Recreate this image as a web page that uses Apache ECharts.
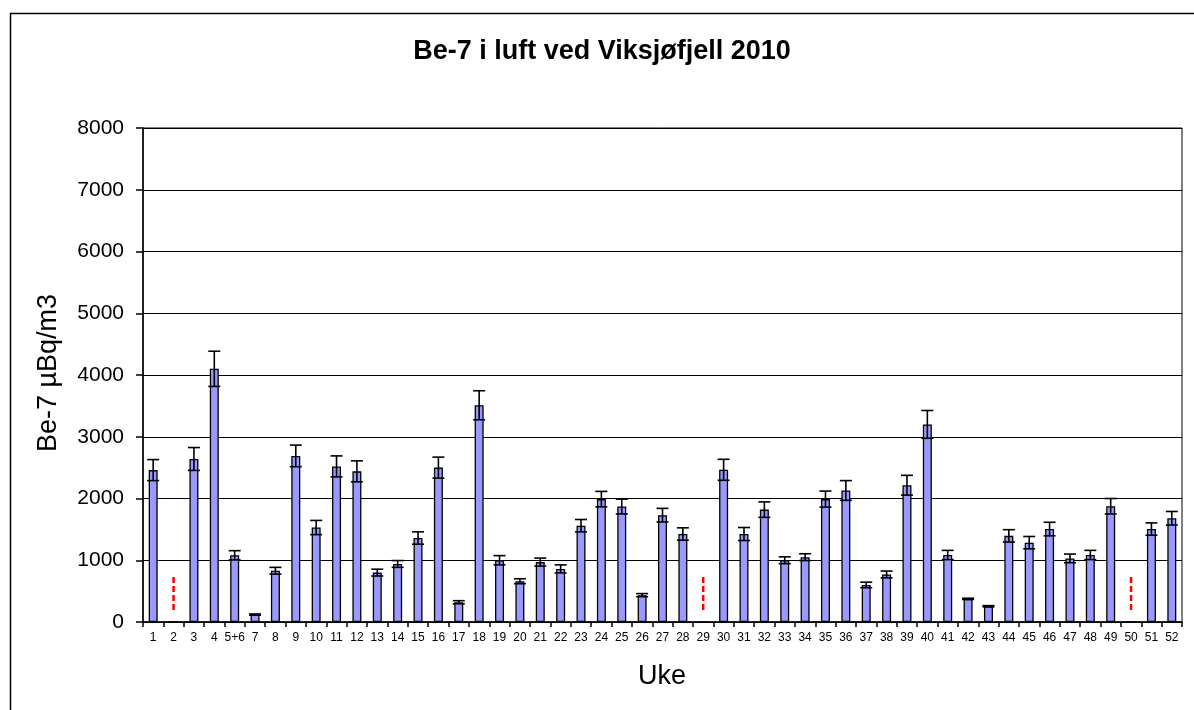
<!DOCTYPE html>
<html>
<head>
<meta charset="utf-8">
<title>Be-7 i luft ved Viksjøfjell 2010</title>
<script src="https://cdn.jsdelivr.net/npm/echarts@6/dist/echarts.min.js"></script>
<style>
  html, body { margin: 0; padding: 0; background: #fff; }
  #chart { width: 1194px; height: 710px; }
</style>
</head>
<body>
<div id="chart"></div>
<script>
// Weekly Be-7 activity concentrations (µBq/m3) with measurement uncertainty
const weeks = ['1','2','3','4','5+6','7','8','9','10','11','12','13','14','15','16','17','18','19','20',
  '21','22','23','24','25','26','27','28','29','30','31','32','33','34','35','36','37','38','39','40',
  '41','42','43','44','45','46','47','48','49','50','51','52'];

const be7 = [2460, null, 2640, 4100, 1080, 120, 830, 2690, 1530, 2520, 2440, 800, 940, 1360, 2500, 320, 3510, 1000, 660,
  970, 860, 1560, 1990, 1870, 435, 1730, 1425, null, 2465, 1425, 1820, 1000, 1050, 1990, 2130, 600, 770, 2215, 3200,
  1085, 375, 255, 1395, 1285, 1505, 1030, 1085, 1875, null, 1505, 1680];

const uncertainty = [170, null, 185, 285, 75, 10, 55, 175, 115, 170, 170, 55, 55, 100, 170, 25, 235, 75, 40,
  65, 65, 100, 125, 120, 25, 110, 100, null, 170, 105, 125, 55, 55, 130, 160, 45, 55, 160, 225,
  75, 10, 10, 100, 100, 110, 70, 75, 125, null, 100, 110];

// Weeks without a sample, flagged by a red dashed marker spanning this value range
const missingWeeks = ['2', '29', '50'];
const missingMarkRange = [180, 730];

const yTicks = [0, 1000, 2000, 3000, 4000, 5000, 6000, 7000, 8000];

const FONT = "'Liberation Sans', Arial, sans-serif";

const barData = be7.map(v => (v === null ? 0 : v));
const errData = [];
be7.forEach((v, i) => {
  if (v !== null) errData.push([i, v - uncertainty[i], v + uncertainty[i]]);
});
const missData = missingWeeks.map(w => [weeks.indexOf(w), missingMarkRange[0], missingMarkRange[1]]);

const chart = echarts.init(document.getElementById('chart'), null, { renderer: 'canvas' });

chart.setOption({
  animation: false,
  backgroundColor: '#fff',
  grid: {
    left: 143, top: 128, right: 12, bottom: 88,
    show: true, borderColor: '#000', borderWidth: 1, backgroundColor: 'transparent'
  },
  xAxis: {
    type: 'category',
    data: weeks,
    boundaryGap: true,
    axisLine: { lineStyle: { color: '#000', width: 1.5 } },
    axisTick: { show: true, alignWithLabel: false, length: 5, lineStyle: { color: '#000', width: 1.5 } },
    axisLabel: { interval: 0, color: '#000', fontFamily: FONT, fontSize: 12, margin: 10 },
    splitLine: { show: false }
  },
  yAxis: {
    type: 'value',
    min: yTicks[0],
    max: yTicks[yTicks.length - 1],
    interval: yTicks[1] - yTicks[0],
    axisLine: { show: true, lineStyle: { color: '#000', width: 1.5 } },
    axisTick: { show: true, length: 7, lineStyle: { color: '#000', width: 1.5 } },
    axisLabel: {
      color: '#000', fontFamily: FONT, fontSize: 21, margin: 19,
      formatter: function (v) { return String(v); }
    },
    splitLine: { show: true, lineStyle: { color: '#000', width: 1.2 } }
  },
  series: [
    {
      type: 'bar',
      data: barData,
      barWidth: 9,
      itemStyle: { color: '#9999FF', borderColor: '#000', borderWidth: 1.3 },
      z: 2
    },
    {
      // uncertainty whiskers with caps
      type: 'custom',
      data: errData,
      z: 3,
      renderItem: function (params, api) {
        const x = api.value(0);
        const lo = api.coord([x, api.value(1)]);
        const hi = api.coord([x, api.value(2)]);
        const half = 6;
        const style = { stroke: '#000', lineWidth: 1.6 };
        return {
          type: 'group',
          children: [
            { type: 'line', shape: { x1: hi[0], y1: hi[1], x2: lo[0], y2: lo[1] }, style: style },
            { type: 'line', shape: { x1: hi[0] - half, y1: hi[1], x2: hi[0] + half, y2: hi[1] }, style: style },
            { type: 'line', shape: { x1: lo[0] - half, y1: lo[1], x2: lo[0] + half, y2: lo[1] }, style: style }
          ]
        };
      }
    },
    {
      // red dashed markers for weeks without data
      type: 'custom',
      data: missData,
      z: 3,
      renderItem: function (params, api) {
        const x = api.value(0);
        const lo = api.coord([x, api.value(1)]);
        const hi = api.coord([x, api.value(2)]);
        return {
          type: 'line',
          shape: { x1: hi[0], y1: hi[1], x2: lo[0], y2: lo[1] },
          style: { stroke: '#FF0000', lineWidth: 2.5, lineDash: [6, 3] }
        };
      }
    }
  ],
  graphic: [
    {
      type: 'rect',
      left: 8, top: 11,
      shape: { width: 1200, height: 800 },
      style: { fill: 'none', stroke: '#000', lineWidth: 1.5 },
      z: -1
    },
    {
      type: 'text',
      x: 602, y: 52,
      style: {
        text: 'Be-7 i luft ved Viksjøfjell 2010',
        fill: '#000', font: 'bold 27px ' + FONT,
        textAlign: 'center', textVerticalAlign: 'middle'
      }
    },
    {
      type: 'text',
      x: 49, y: 373,
      rotation: Math.PI / 2,
      style: {
        text: 'Be-7 µBq/m3',
        fill: '#000', font: '27px ' + FONT,
        textAlign: 'center', textVerticalAlign: 'middle'
      }
    },
    {
      type: 'text',
      x: 662, y: 677,
      style: {
        text: 'Uke',
        fill: '#000', font: '27px ' + FONT,
        textAlign: 'center', textVerticalAlign: 'middle'
      }
    }
  ]
});
</script>
</body>
</html>
